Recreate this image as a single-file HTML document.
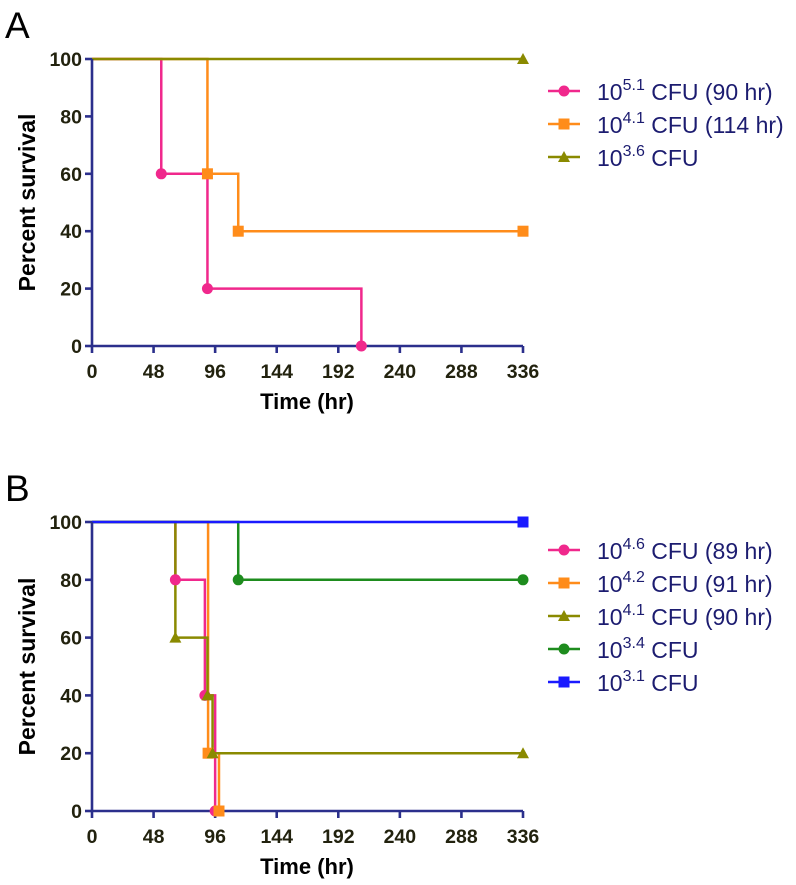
<!DOCTYPE html>
<html><head><meta charset="utf-8"><style>
body{margin:0;background:#fff;}
svg{display:block;font-family:"Liberation Sans",Arial,sans-serif;}
</style></head><body>
<svg id="chart" width="796" height="885" viewBox="0 0 796 885" xmlns="http://www.w3.org/2000/svg"></svg>
<script>
const xTicks=[0,48,96,144,192,240,288,336];
const yTicks=[0,20,40,60,80,100];
// Panel A series: step times and survival values
const aPinkT=[0,54,90,210];
const aPinkV=[100,60,20,0];
const aOrangeT=[0,90,114,336];
const aOrangeV=[100,60,40,40];
const aOliveT=[0,336];
const aOliveV=[100,100];
// Panel B series
const bPinkT=[0,65,88,96];
const bPinkV=[100,80,40,0];
const bOrangeT=[0,90.5,99];
const bOrangeV=[100,20,0];
const bOliveT=[0,65,90,94,336];
const bOliveV=[100,60,40,20,20];
const bGreenT=[0,114,336];
const bGreenV=[100,80,80];
const bBlueT=[0,336];
const bBlueV=[100,100];
const aLegend=["5.1|CFU (90 hr)","4.1|CFU (114 hr)","3.6|CFU"];
const bLegend=["4.6|CFU (89 hr)","4.2|CFU (91 hr)","4.1|CFU (90 hr)","3.4|CFU","3.1|CFU"];

const NS="http://www.w3.org/2000/svg";
const svg=document.getElementById('chart');
function mk(tag,attrs,parent){const e=document.createElementNS(NS,tag);for(const k in attrs)e.setAttribute(k,attrs[k]);(parent||svg).appendChild(e);return e;}

const C={pink:"#f0288c",orange:"#ff8c1a",olive:"#8a8a00",green:"#1e8c1e",blue:"#1a1aff"};

function marker(g,type,x,y,color){
  let m;
  if(type==='circle') m=mk('circle',{cx:x,cy:y,r:5.5,fill:color},g);
  else if(type==='square') m=mk('rect',{x:x-5.5,y:y-5.5,width:11,height:11,fill:color},g);
  else m=mk('polygon',{points:`${x},${y-6} ${x-6},${y+5} ${x+6},${y+5}`,fill:color},g);
  
  
}

function panel(id,letter,top,y0px,seriesList,legend,legendTop){
  const X=t=>92+t/336*431;
  const Y=v=>y0px-(v/100)*(y0px-top);
  const g=mk('g',{});
  
  
  const L=mk('text',{x:5,y:top-21,'font-size':37,fill:'#000'},g);
  L.textContent=letter;
  
  
  seriesList.forEach(s=>{
    let d=`M${X(s.t[0])},${Y(s.v[0])}`;
    for(let i=1;i<s.t.length;i++){d+=` H${X(s.t[i])} V${Y(s.v[i])}`;}
    const p=mk('path',{d:d,fill:'none',stroke:s.c,'stroke-width':2.5},g);
    
    
  });
  const ax=mk('path',{d:`M92,${top} V${y0px} H523`,fill:'none',stroke:'#2b2f8c','stroke-width':2.6},g);
  
  
  xTicks.forEach(t=>{
    const tk=mk('line',{x1:X(t),x2:X(t),y1:y0px,y2:y0px+7,stroke:'#2b2f8c','stroke-width':2.6},g);
    
    
    const tl=mk('text',{x:X(t),y:y0px+32,'font-size':19.5,'font-weight':'bold','text-anchor':'middle',fill:'#22220e'},g);
    tl.textContent=t;
    
    
  });
  yTicks.forEach(v=>{
    const tk=mk('line',{x1:85,x2:92,y1:Y(v),y2:Y(v),stroke:'#2b2f8c','stroke-width':2.6},g);
    
    
    const tl=mk('text',{x:82,y:Y(v)+7,'font-size':19.5,'font-weight':'bold','text-anchor':'end',fill:'#22220e'},g);
    tl.textContent=v;
    
    
  });
  const xt=mk('text',{x:307,y:y0px+63,'font-size':22,'font-weight':'bold','text-anchor':'middle',fill:'#000'},g);
  xt.textContent='Time (hr)';
  
  
  const cy=(top+y0px)/2;
  const yt=mk('text',{x:0,y:0,transform:`translate(35,${cy}) rotate(-90)`,'font-size':23,'font-weight':'bold','text-anchor':'middle',fill:'#000'},g);
  yt.textContent='Percent survival';
  
  
  seriesList.forEach(s=>{
    for(let i=1;i<s.t.length;i++) marker(g,s.m,X(s.t[i]),Y(s.v[i]),s.c);
  });
  legend.forEach((txt,i)=>{
    const s=seriesList[i];
    const yy=legendTop+i*33;
    const lg=mk('g',{},g);
    
    
    mk('line',{x1:548,x2:580,y1:yy,y2:yy,stroke:s.c,'stroke-width':2.5},lg);
    marker(lg,s.m,564,yy,s.c);
    const [exp,rest]=txt.split('|');
    const t=mk('text',{x:597,y:yy+9,'font-size':23,fill:'#1c1c70'},lg);
    t.innerHTML=`10<tspan dy="-10" font-size="16">${exp}</tspan><tspan dy="10"> ${rest}</tspan>`;
  });
}

panel('a','A',59,346,[
  {n:'pink',t:aPinkT,v:aPinkV,c:C.pink,m:'circle'},
  {n:'orange',t:aOrangeT,v:aOrangeV,c:C.orange,m:'square'},
  {n:'olive',t:aOliveT,v:aOliveV,c:C.olive,m:'tri'}
],aLegend,91);

panel('b','B',522,811,[
  {n:'pink',t:bPinkT,v:bPinkV,c:C.pink,m:'circle'},
  {n:'orange',t:bOrangeT,v:bOrangeV,c:C.orange,m:'square'},
  {n:'olive',t:bOliveT,v:bOliveV,c:C.olive,m:'tri'},
  {n:'green',t:bGreenT,v:bGreenV,c:C.green,m:'circle'},
  {n:'blue',t:bBlueT,v:bBlueV,c:C.blue,m:'square'}
],bLegend,550);
</script>
</body></html>
